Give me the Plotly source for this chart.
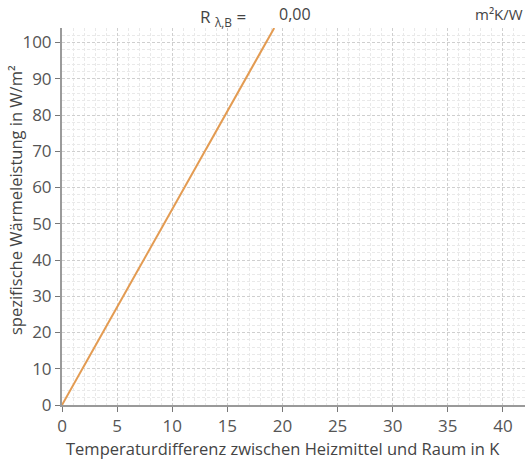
import plotly.graph_objects as go

# data
delta_t = [0, 19.25]          # Temperaturdifferenz in K
leistung = [0, 104]           # spezifische Wärmeleistung in W/m²
x_ticks = [0, 5, 10, 15, 20, 25, 30, 35, 40]
y_ticks = [0, 10, 20, 30, 40, 50, 60, 70, 80, 90, 100]
r_value = "0,00"

fig = go.Figure()
fig.add_trace(go.Scatter(x=delta_t, y=leistung, mode="lines",
                         line=dict(color="#E39B52", width=2), showlegend=False))

font_family = "'Open Sans', Roboto, sans-serif"
axis_common = dict(showline=True, linecolor="#9a9a9a", linewidth=2,
                   ticks="outside", ticklen=5, tickcolor="#777", tickwidth=1,
                   tickfont=dict(size=17, color="#555", family=font_family),
                   showgrid=True, gridcolor="#cfcfcf", griddash="3px,2px", gridwidth=1,
                   zeroline=False, automargin=False)

fig.update_xaxes(range=[0, 42], tickvals=x_ticks,
                 minor=dict(dtick=1, showgrid=True, gridcolor="#e9e9e9", griddash="3px,2px",
                            gridwidth=1, ticks=""),
                 **axis_common)
fig.update_yaxes(range=[0, 104], tickvals=y_ticks,
                 minor=dict(dtick=2, showgrid=True, gridcolor="#e9e9e9", griddash="3px,2px",
                            gridwidth=1, ticks=""),
                 **axis_common)

W, H = 527, 461
l, r, t, b = 62, 2, 28, 56
pw, ph = W - l - r, H - t - b

annots = [
    dict(x=283, y=449, text="Temperaturdifferenz zwischen Heizmittel und Raum in K",
         size=16.5, anchor="center"),
    dict(x=15, y=200, text="spezifische Wärmeleistung in W/m²", angle=-90,
         size=16.5, anchor="center"),
    dict(x=198, y=18, text="R <sub>λ,B</sub> =", size=17, anchor="left"),
    dict(x=277, y=14, text=r_value, size=16, anchor="left"),
    dict(x=525, y=14, text="m²K/W", size=15, anchor="right"),
]
for a in annots:
    fig.add_annotation(x=(a["x"] - l) / pw, y=(H - b - a["y"]) / ph, xref="paper", yref="paper",
                       text=a["text"], showarrow=False, xanchor=a["anchor"], yanchor="middle",
                       textangle=a.get("angle", 0),
                       font=dict(family=font_family, size=a["size"], color="#444"))

fig.update_layout(width=W, height=H, margin=dict(l=l, r=r, t=t, b=b, autoexpand=False),
                  plot_bgcolor="white", paper_bgcolor="white",
                  font=dict(family=font_family))
fig.write_html("out.html", config={"displayModeBar": False},
               post_script="document.body.style.margin='0';document.body.style.overflow='hidden';")
